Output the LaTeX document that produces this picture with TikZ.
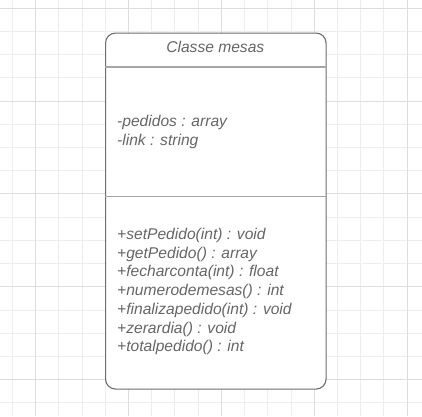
\documentclass[tikz,border=0pt]{standalone}
\usepackage{fontspec}
\setmainfont{Liberation Sans}
\definecolor{gradefina}{HTML}{EDEDED}
\definecolor{gradeforte}{HTML}{DDDDDD}
\definecolor{borda}{HTML}{6E6E6E}
\definecolor{divisao}{HTML}{A6A6A6}
\definecolor{texto}{HTML}{666666}
\tikzset{
  caixa/.style={draw=borda, fill=white, line width=1.1pt, rounded corners=10pt, inner sep=0pt},
  divisor/.style={draw=divisao, line width=1.6pt},
  membro/.style={anchor=base west, inner sep=0pt, text=texto,
    font=\itshape\fontsize{15.6}{18.7}\selectfont}
}
\begin{document}
\begin{tikzpicture}[x=1pt, y=1pt]
      \useasboundingbox (0,0) rectangle (422,-416);
      \fill [white] (0,0) rectangle (422,-416);
      \begin{scope}[shift={(12.45,-8.2)}]
        \draw [gradefina, line width=1pt, step=23.22pt] (-12.45,8.2) grid (409.55,-407.8);
      \end{scope}
      \begin{scope}[shift={(35.67,-8.2)}]
        \draw [gradeforte, line width=1pt, step=92.88pt] (-35.67,8.2) grid (386.33,-407.8);
      \end{scope}

      \node [caixa, anchor=north west, minimum width=220.5pt, minimum height=356pt] (classe) at (105,-32.5) {};
      \draw [divisor] (classe.west |- 0,-67) -- (classe.east |- 0,-67);
      \draw [divisor] (classe.west |- 0,-196.3) -- (classe.east |- 0,-196.3);

      \node [membro, anchor=base] (titulo) at (215.3,-52.5) {Classe mesas};

      \node [membro] (atr1) at (117,-126.5) {-pedidos : array};
      \node [membro] (atr2) at (117,-145.2) {-link : string};

      \node [membro] (met1) at (117,-239.5) {+setPedido(int) : void};
      \node [membro] (met2) at (117,-258.2) {+getPedido() : array};
      \node [membro] (met3) at (117,-276.9) {+fecharconta(int) : float};
      \node [membro] (met4) at (117,-295.6) {+numerodemesas() : int};
      \node [membro] (met5) at (117,-314.3) {+finalizapedido(int) : void};
      \node [membro] (met6) at (117,-333.0) {+zerardia() : void};
      \node [membro] (met7) at (117,-351.7) {+totalpedido() : int};
\end{tikzpicture}
\end{document}
